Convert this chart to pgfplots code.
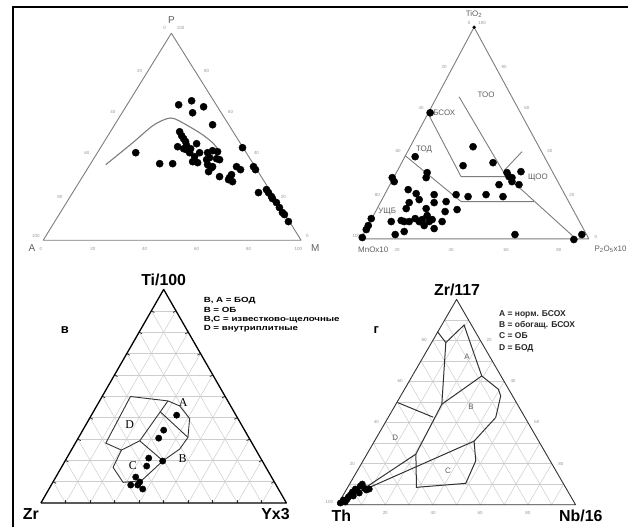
\documentclass[border=0pt]{standalone}
\usepackage{fontspec}
\setmainfont{Liberation Sans}
\newfontfamily\serifA{Liberation Serif}
\newfontfamily\legfont{Liberation Sans}[FakeStretch=1.3]
\usepackage{pgfplots}
\pgfplotsset{compat=1.18}
\definecolor{gridc}{RGB}{205,205,205}
\definecolor{linec}{RGB}{125,125,125}
\definecolor{tickc}{RGB}{150,150,150}
\definecolor{txtc}{RGB}{95,95,95}
\definecolor{polyc}{RGB}{50,50,50}

% ternary grid: #1,#2 left vertex, #3,#4 right vertex, #5,#6 apex
\newcommand{\terngrid}[6]{%
\pgfplotsinvokeforeach{1,...,9}{%
\draw[gridc,line width=0.5bp] (axis cs:{#1+##1/10*(#5-#1)},{#2+##1/10*(#6-#2)}) -- (axis cs:{#3+##1/10*(#5-#3)},{#4+##1/10*(#6-#4)});
\draw[gridc,line width=0.5bp] (axis cs:{#1+##1/10*(#3-#1)},{#2+##1/10*(#4-#2)}) -- (axis cs:{#5+##1/10*(#3-#5)},{#6+##1/10*(#4-#6)});
\draw[gridc,line width=0.5bp] (axis cs:{#1+##1/10*(#3-#1)},{#2+##1/10*(#4-#2)}) -- (axis cs:{#1+##1/10*(#5-#1)},{#2+##1/10*(#6-#2)});
}}

\tikzset{
 tl/.style={font=\fontsize{4.5}{5}\selectfont, text=tickc, inner sep=0pt},
 vl/.style={font=\fontsize{10}{10}\selectfont, text=txtc, inner sep=0pt},
 bl/.style={font=\fontsize{16}{16}\selectfont\bfseries, text=black, inner sep=0pt},
 fl/.style={font=\fontsize{8}{8}\selectfont, text=txtc, inner sep=0pt},
}

\begin{document}
\begin{tikzpicture}
\begin{axis}[x=1bp, y=1bp, y dir=reverse, xmin=0, xmax=629, ymin=0, ymax=528,
  hide axis, clip=false]
\path (axis cs:0,0) rectangle (axis cs:629,528);

% frame
\addplot[black, line width=2.5bp] coordinates {(13,528) (13,7) (629,7)};

% ================= Panel 1: A-P-M =================
\addplot[linec, line width=0.9bp, line join=round] coordinates {(43.3,240.7) (301.7,240.7) (171.7,33.3) (43.3,240.7)};
\addplot[linec, line width=1.1bp, smooth] coordinates {(106,165) (133,143) (153,126) (167,119) (175,119) (190,127) (203,135) (213,143) (218,149)};
\addplot[only marks, mark=*, mark size=3.6pt, black] coordinates {
(179,105) (192,101) (204,107) (193,113) (213,125)
(180,132) (182,136) (184,139) (186,142) (178,147) (187,146) (197,144) (187,150) (190,153)
(195,157) (193,162) (200,153) (198,163) (208,153) (213,151) (218,152) (210,158) (217,159)
(208,165) (213,167) (209,172) (220,177) (230,178) (233,182) (232,175) (237,167) (241,170)
(243,148) (254,167) (256,170) (136,153) (160,164) (173,164) (259,193) (267,190) (269,193)
(272,197) (273,199) (277,203) (280,208) (283,213) (285,215) (289,222) (212,168) (207,160)
(220,160) (229,180) (184,149) (191,149)};
\node[vl] at (axis cs:171.7,20) {P};
\node[vl] at (axis cs:32,248.5) {A};
\node[vl] at (axis cs:316,248.5) {M};
\node[tl] at (axis cs:165,28) {0};
\node[tl] at (axis cs:181,28) {100};
\node[tl] at (axis cs:140,71) {20};
\node[tl] at (axis cs:113,112) {40};
\node[tl] at (axis cs:87,153) {60};
\node[tl] at (axis cs:60,197) {80};
\node[tl] at (axis cs:36,236) {100};
\node[tl] at (axis cs:207,71) {80};
\node[tl] at (axis cs:231,112) {60};
\node[tl] at (axis cs:257,153) {40};
\node[tl] at (axis cs:284,197) {20};
\node[tl] at (axis cs:308,236) {0};
\node[tl] at (axis cs:41,249) {0};
\node[tl] at (axis cs:93,249) {20};
\node[tl] at (axis cs:145,249) {40};
\node[tl] at (axis cs:197,249) {60};
\node[tl] at (axis cs:249,249) {80};
\node[tl] at (axis cs:299,249) {100};

% ================= Panel 2: TiO2-MnO-P2O5 =================
\addplot[linec, line width=0.9bp, line join=round] coordinates {(361.7,239.3) (590,239.3) (475,27.3) (361.7,239.3)};
\addplot[linec, line width=0.9bp] coordinates {(428,112) (462,177) (506,177)};
\addplot[linec, line width=0.9bp] coordinates {(460,97) (506,175) (577,239.3)};
\addplot[linec, line width=0.9bp] coordinates {(505,171) (523,152)};
\addplot[linec, line width=0.9bp] coordinates {(406,156) (462,202) (535,202)};
\addplot[only marks, mark=*, mark size=1.5pt, black] coordinates {(475,27.3)};
\addplot[only marks, mark=*, mark size=3.6pt, black] coordinates {
(431,113) (474,147) (464,166) (494,163) (416,157) (428,173) (427,178) (393,178) (395,182)
(508,173) (510,177) (513,178) (513,182) (522,172) (520,185) (500,185) (504,197) (487,195)
(469,197) (457,195) (447,202) (458,210) (446,212) (435,195) (435,203) (409,190) (417,194)
(420,200) (410,203) (407,209) (427,209) (428,216) (410,222) (405,222) (416,219) (420,222)
(423,220) (430,222) (433,220) (392,222) (402,221) (443,222) (435,229) (405,232) (396,235)
(425,226) (372,219) (369,226) (367,230) (363,238) (516,235) (575,240) (583,235)};
\node[font=\fontsize{8}{8}\selectfont, text=txtc, inner sep=0pt] at (axis cs:475,14) {TiO\textsubscript{2}};
\node[font=\fontsize{8}{8}\selectfont, text=txtc, inner sep=0pt] at (axis cs:374,250) {MnOx10};
\node[font=\fontsize{8}{8}\selectfont, text=txtc, inner sep=0pt, anchor=east] at (axis cs:628,250) {P\textsubscript{2}O\textsubscript{5}x10};
\node[fl] at (axis cs:487,95) {ТОО};
\node[fl, anchor=west] at (axis cs:434,113) {БСОХ};
\node[fl] at (axis cs:425,150) {ТОД};
\node[fl] at (axis cs:539,178) {ЩОО};
\node[fl] at (axis cs:388,212) {УЩБ};
\node[tl] at (axis cs:470,23) {0};
\node[tl] at (axis cs:483,23) {100};
\node[tl] at (axis cs:445,67) {20};
\node[tl] at (axis cs:422,108) {40};
\node[tl] at (axis cs:399,151) {60};
\node[tl] at (axis cs:378,195) {80};
\node[tl] at (axis cs:357,236) {100};
\node[tl] at (axis cs:505,67) {80};
\node[tl] at (axis cs:528,108) {60};
\node[tl] at (axis cs:551,151) {40};
\node[tl] at (axis cs:573,195) {20};
\node[tl] at (axis cs:597,237) {0};
\node[tl] at (axis cs:398,250) {20};
\node[tl] at (axis cs:452,250) {40};
\node[tl] at (axis cs:507,250) {60};
\node[tl] at (axis cs:560,250) {80};

% ================= Panel 3: Ti/100 - Zr - Yx3 =================
\terngrid{41}{504}{287}{504}{164}{290}
\pgfplotsinvokeforeach{1,...,9}{%
\draw[polyc, line width=0.8bp] (axis cs:{41+#1*24.6},504) -- (axis cs:{41+#1*24.6},500.5);
\draw[polyc, line width=0.8bp] (axis cs:{41+#1*12.3},{504-#1*21.4}) -- (axis cs:{44+#1*12.3},{505.7-#1*21.4});
\draw[polyc, line width=0.8bp] (axis cs:{287-#1*12.3},{504-#1*21.4}) -- (axis cs:{284-#1*12.3},{505.7-#1*21.4});
}
\addplot[black, line width=1.3bp, line join=round] coordinates {(41,504) (287,504) (164,290) (41,504)};
\addplot[polyc, line width=0.9bp, line join=round] coordinates {
(130.7,397.3) (168.3,401.7) (180,406.7) (190,419.3) (188.3,438.3) (180,450) (163.3,461.7)
(141.7,481.7) (123.3,483.3) (113.3,468.3) (121.7,451) (106,444) (130.7,397.3)};
\addplot[polyc, line width=0.9bp] coordinates {(168.3,401.7) (140,441.7) (121.7,451)};
\addplot[polyc, line width=0.9bp] coordinates {(160.7,412.7) (188.3,438.3)};
\addplot[polyc, line width=0.9bp] coordinates {(140,441.7) (163.3,461.7)};
\addplot[only marks, mark=*, mark size=3.2pt, black] coordinates {
(177,416) (164,431) (159,439) (149,459) (147,467) (163,462) (136,478) (131,486) (138,486)
(140,483) (143,490)};
\node[font=\fontsize{12}{12}\selectfont\serifA, inner sep=0pt] at (axis cs:183.5,403) {A};
\node[font=\fontsize{12}{12}\selectfont\serifA, inner sep=0pt] at (axis cs:130,425) {D};
\node[font=\fontsize{12}{12}\selectfont\serifA, inner sep=0pt] at (axis cs:183,460) {B};
\node[font=\fontsize{12}{12}\selectfont\serifA, inner sep=0pt] at (axis cs:133,467) {C};
\node[bl] at (axis cs:164,280) {Ti/100};
\node[bl] at (axis cs:31,515) {Zr};
\node[bl] at (axis cs:276,515) {Yx3};
\node[font=\fontsize{13}{13}\selectfont\bfseries, inner sep=0pt] at (axis cs:65,331) {в};
\node[font=\fontsize{7.5}{9.3}\selectfont\legfont\bfseries, anchor=north west, align=left, inner sep=0pt] at (axis cs:204,298) {B, A = БОД\\B = ОБ\\B,C = известково-щелочные\\D = внутриплитные};

% ================= Panel 4: Zr/117 - Th - Nb/16 =================
\terngrid{338.3}{505.7}{576.7}{505.7}{457.5}{300}
\addplot[polyc, line width=0.9bp, line join=round] coordinates {(338.3,505.7) (576.7,505.7) (457.5,300) (338.3,505.7)};
\addplot[polyc, line width=1bp] coordinates {(438.3,332.3) (446.7,343.3) (465,325.7) (482.7,376.7) (499.3,390) (501.7,396.7) (496.7,418.3) (475,442) (362,492)};
\addplot[polyc, line width=1bp] coordinates {(446.7,343.3) (442.7,405) (416.7,455) (364,490)};
\addplot[polyc, line width=1bp] coordinates {(482.7,376.7) (442.7,405)};
\addplot[polyc, line width=1bp] coordinates {(416.7,455) (417.3,488.3) (466.7,484.3) (476.7,461.7) (475,442)};
\addplot[polyc, line width=1bp] coordinates {(398.3,403.3) (434,418)};
\addplot[only marks, mark=*, mark size=3.2pt, black] coordinates {
(341,504) (344,501) (346,503) (349,498) (351,496) (353,493) (356,490) (358,492) (361,487)
(363,485) (365,489) (367,491) (360,494) (370,490) (354,497) (348,500)};
\node[fl] at (axis cs:468,357) {A};
\node[fl] at (axis cs:472,408) {B};
\node[fl] at (axis cs:449,472) {C};
\node[fl] at (axis cs:396,439) {D};
\node[bl] at (axis cs:458,290) {Zr/117};
\node[bl] at (axis cs:342,517) {Th};
\node[bl] at (axis cs:582,517) {Nb/16};
\node[font=\fontsize{13}{13}\selectfont\bfseries, inner sep=0pt] at (axis cs:377,331) {г};
\node[font=\fontsize{8.5}{11.3}\selectfont\bfseries, text=black!85, anchor=north west, align=left, inner sep=0pt] at (axis cs:500,311) {A = норм. БСОХ\\B = обогащ. БСОХ\\C = ОБ\\D = БОД};
\node[tl] at (axis cs:330,503) {100};
\node[tl] at (axis cs:353,465) {20};
\node[tl] at (axis cs:377,423) {40};
\node[tl] at (axis cs:401,382) {60};
\node[tl] at (axis cs:425,341) {80};
\node[tl] at (axis cs:562,465) {80};
\node[tl] at (axis cs:538,423) {60};
\node[tl] at (axis cs:514,382) {40};
\node[tl] at (axis cs:490,341) {20};
\node[tl] at (axis cs:386,514) {20};
\node[tl] at (axis cs:434,514) {40};
\node[tl] at (axis cs:481,514) {60};
\node[tl] at (axis cs:529,514) {80};
\end{axis}
\end{tikzpicture}
\end{document}
